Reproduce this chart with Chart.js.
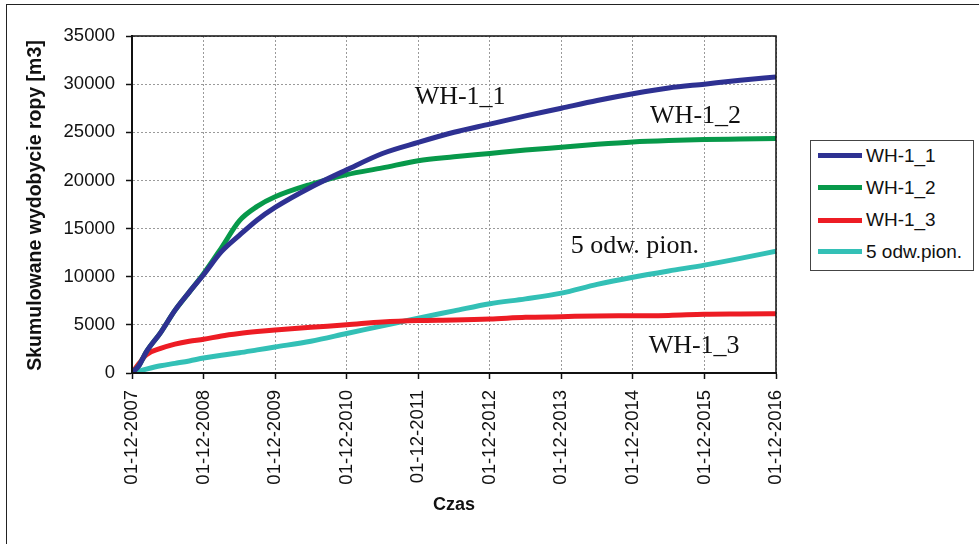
<!DOCTYPE html>
<html>
<head>
<meta charset="utf-8">
<script src="https://cdn.jsdelivr.net/npm/chart.js@4"></script>
<style>
  html, body { margin: 0; padding: 0; background: #fff; overflow: hidden; width: 979px; height: 544px; }
  #frame { position: absolute; left: 6px; top: 4px; width: 1200px; height: 800px; border: 1.5px solid #222; box-sizing: border-box; }
  #wrap { position: absolute; left: 0; top: 0; width: 979px; height: 544px; }
  #legend { position: absolute; left: 810px; top: 140px; width: 164px; height: 131px; border: 1.5px solid #444;
            box-sizing: border-box; background: #fff; font-family: "Liberation Sans", Arial, sans-serif; font-size: 19px; color: #111; }
  #legend .row { position: absolute; left: 7px; height: 22px; display: flex; align-items: center; white-space: nowrap; }
  #legend .sw { width: 44px; height: 5px; margin-right: 4px; }
</style>
</head>
<body>
<div id="frame"></div>
<div id="wrap"><canvas id="c" width="979" height="544"></canvas></div>
<div id="legend"></div>
<script>
// Time in years counted from 01-12-2007
const years = [0, 0.1, 0.2, 0.4, 0.6, 0.8, 1.0, 1.25, 1.5, 1.75, 2.0, 2.5, 3.0, 3.5, 4.0, 4.5, 5.0, 5.5, 6.0, 6.5, 7.0, 7.5, 8.0, 8.5, 9.0];

// Cumulative oil production [m3]
const wh1_1 = [0, 800, 2200, 4200, 6500, 8400, 10200, 12600, 14300, 15900, 17200, 19300, 21100, 22800, 23950, 25000, 25850, 26700, 27500, 28300, 29000, 29600, 30000, 30400, 30750];
const wh1_2 = [0, 800, 2200, 4200, 6500, 8400, 10300, 13000, 15800, 17300, 18300, 19600, 20600, 21300, 22050, 22450, 22800, 23150, 23450, 23750, 24000, 24150, 24250, 24300, 24350];
const wh1_3 = [0, 1000, 1900, 2550, 3000, 3300, 3500, 3850, 4100, 4300, 4470, 4750, 5000, 5300, 5450, 5500, 5600, 5780, 5850, 5930, 5950, 5980, 6100, 6130, 6150];
const odw5  = [0, 200, 400, 750, 1000, 1250, 1550, 1850, 2100, 2400, 2700, 3300, 4100, 4900, 5700, 6450, 7200, 7700, 8300, 9200, 9950, 10600, 11200, 11900, 12650];

const seriesNames = ['WH-1_1', 'WH-1_2', 'WH-1_3', '5 odw.pion.'];
const xTickLabels = ['01-12-2007', '01-12-2008', '01-12-2009', '01-12-2010', '01-12-2011',
                     '01-12-2012', '01-12-2013', '01-12-2014', '01-12-2015', '01-12-2016'];
const yTicks = [0, 5000, 10000, 15000, 20000, 25000, 30000, 35000];

// Curve captions placed in data coordinates (years, m3)
const captions = [
  { text: 'WH-1_1',       x: 3.95, y: 27950 },
  { text: 'WH-1_2',       x: 7.24, y: 26000 },
  { text: '5 odw. pion.', x: 6.13, y: 12450 },
  { text: 'WH-1_3',       x: 7.22, y: 2100 }
];

const colors = ['#2e3192', '#07994a', '#ed1c24', '#33c0b6'];
const allSeries = [wh1_1, wh1_2, wh1_3, odw5];

const SANS = '"Liberation Sans", Arial, sans-serif';

const datasets = allSeries.map((vals, i) => ({
  label: seriesNames[i],
  data: years.map((t, k) => ({ x: t, y: vals[k] })),
  borderColor: colors[i],
  backgroundColor: colors[i],
  borderWidth: 5,
  pointRadius: 0,
  cubicInterpolationMode: 'monotone',
  fill: false,
  order: i + 1
}));

const decorations = {
  id: 'decorations',
  afterDatasetsDraw(chart) {
    const { ctx, chartArea: a, scales: { x, y } } = chart;
    ctx.save();
    // plot frame
    ctx.strokeStyle = '#111';
    ctx.lineWidth = 1.5;
    ctx.strokeRect(a.left, a.top, a.right - a.left, a.bottom - a.top);
    ctx.lineWidth = 2;
    ctx.beginPath();
    ctx.moveTo(a.left, a.top); ctx.lineTo(a.left, a.bottom); ctx.lineTo(a.right, a.bottom);
    ctx.stroke();
    // curve captions
    ctx.fillStyle = '#111';
    ctx.font = '26px "Liberation Serif", "Times New Roman", serif';
    ctx.textAlign = 'left';
    ctx.textBaseline = 'alphabetic';
    captions.forEach(c => ctx.fillText(c.text, x.getPixelForValue(c.x), y.getPixelForValue(c.y)));
    ctx.restore();
  },
  afterDraw(chart) {
    const { ctx, chartArea: a } = chart;
    ctx.save();
    ctx.fillStyle = '#111';
    // x axis title
    ctx.font = 'bold 18px ' + SANS;
    ctx.textAlign = 'center';
    ctx.textBaseline = 'middle';
    ctx.fillText('Czas', (a.left + a.right) / 2, 505);
    // y axis title
    ctx.font = 'bold 19.5px ' + SANS;
    ctx.translate(36, (a.top + a.bottom) / 2 + 1);
    ctx.rotate(-Math.PI / 2);
    ctx.fillText('Skumulowane wydobycie ropy [m3]', 0, 0);
    ctx.restore();
  }
};

const chart = new Chart(document.getElementById('c'), {
  type: 'line',
  data: { datasets },
  options: {
    responsive: false,
    animation: false,
    events: [],
    layout: { padding: { left: 0, top: 36, right: 203, bottom: 0 } },
    plugins: { legend: { display: false }, tooltip: { enabled: false }, title: { display: false } },
    scales: {
      x: {
        type: 'linear',
        min: 0, max: 9,
        afterFit(s) { s.height = 171; },
        afterBuildTicks(s) { s.ticks = xTickLabels.map((_, i) => ({ value: i })); },
        ticks: {
          callback: (v) => xTickLabels[Math.round(v)],
          minRotation: 90, maxRotation: 90,
          autoSkip: false,
          padding: 11,
          color: '#111',
          font: { family: SANS, size: 18.5 }
        },
        grid: { color: '#9a9a9a', lineWidth: 1, tickLength: 6, tickColor: '#111', tickWidth: 1.5, tickBorderDash: [] },
        border: { display: true, color: '#111', width: 2, dash: [2, 2] }
      },
      y: {
        min: 0, max: 35000,
        afterFit(s) { s.width = 132; },
        afterBuildTicks(s) { s.ticks = yTicks.map(v => ({ value: v })); },
        ticks: {
          callback: (v) => String(v),
          padding: 11,
          color: '#111',
          font: { family: SANS, size: 18.5 }
        },
        grid: { color: '#9a9a9a', lineWidth: 1, tickLength: 6, tickColor: '#111', tickWidth: 1.5, tickBorderDash: [] },
        border: { display: true, color: '#111', width: 2, dash: [2, 2] }
      }
    }
  },
  plugins: [decorations]
});

// HTML legend built from the chart's datasets
const legend = document.getElementById('legend');
const rowCenters = [16, 48, 80.5, 112];
chart.data.datasets.forEach((ds, i) => {
  const row = document.createElement('div');
  row.className = 'row';
  row.style.top = (rowCenters[i] - 11 - 1.5) + 'px';
  const sw = document.createElement('span');
  sw.className = 'sw';
  sw.style.background = ds.borderColor;
  const label = document.createElement('span');
  label.textContent = ds.label;
  row.appendChild(sw);
  row.appendChild(label);
  legend.appendChild(row);
});
</script>
</body>
</html>
